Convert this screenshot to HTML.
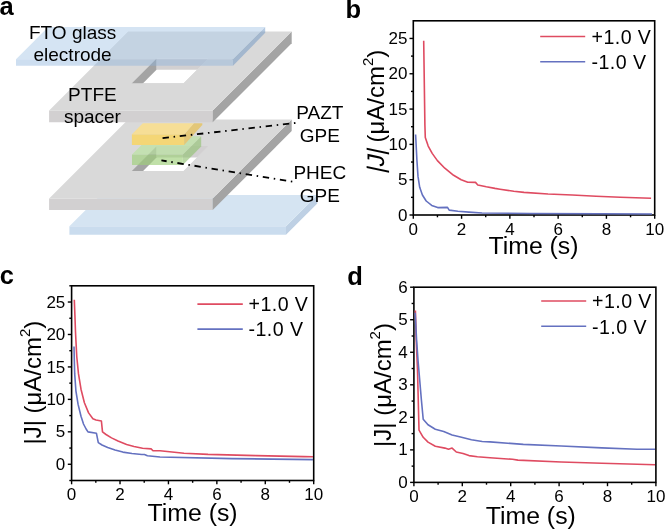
<!DOCTYPE html>
<html><head><meta charset="utf-8"><style>
html,body{margin:0;padding:0;background:#fff;}
svg{display:block;filter:blur(0.3px);}
text{font-family:"Liberation Sans", sans-serif;fill:#000;}
</style></head><body>
<svg width="665" height="530" viewBox="0 0 665 530">
<polygon points="69.40,226.20 286.00,226.20 286.00,234.70 69.40,234.70" fill="#cadcee"/><polygon points="286.00,226.20 317.30,194.90 317.30,203.40 286.00,234.70" fill="#bed0e4"/><polygon points="69.40,226.20 286.00,226.20 317.30,194.90 100.70,194.90" fill="#d5e4f2"/>
<polygon points="49.10,198.40 212.70,198.40 212.70,210.00 49.10,210.00" fill="#d2d0d1"/><polygon points="212.70,198.40 291.70,119.40 291.70,131.00 212.70,210.00" fill="#a4a4a4"/><polygon points="49.10,198.40 212.70,198.40 291.70,119.40 128.10,119.40" fill="#d9d9d9"/><clipPath id="hole1"><polygon points="131.50,171.00 183.60,171.00 208.60,146.00 156.50,146.00" fill="#fff"/></clipPath><g clip-path="url(#hole1)"><polygon points="131.50,171.00 183.60,171.00 208.60,146.00 156.50,146.00" fill="#ffffff"/><polygon points="156.50,146.00 208.60,146.00 208.60,157.60 156.50,157.60" fill="#d2d0d1"/><polygon points="131.50,171.00 156.50,146.00 156.50,157.60 131.50,182.60" fill="#a4a4a4"/></g>
<polygon points="132.00,154.60 182.80,154.60 182.80,165.00 132.00,165.00" fill="#9ecf79" fill-opacity="0.65"/><polygon points="182.80,154.60 201.20,136.20 201.20,146.60 182.80,165.00" fill="#93c174" fill-opacity="0.65"/><polygon points="132.00,154.60 182.80,154.60 201.20,136.20 150.40,136.20" fill="#b9e39c" fill-opacity="0.65"/>
<polygon points="131.90,145.00 184.20,145.00 184.20,134.20 131.90,134.20" fill="#f4d676"/>
<polygon points="184.20,134.20 193.90,123.30 202.30,123.30 202.30,125.00 184.20,145.00" fill="#e3c778"/>
<polygon points="131.90,134.20 184.20,134.20 193.90,123.30 142.80,123.30" fill="#f6de96"/>
<polygon points="49.10,110.60 212.70,110.60 212.70,122.20 49.10,122.20" fill="#d2d0d1"/><polygon points="212.70,110.60 291.70,31.60 291.70,43.20 212.70,122.20" fill="#a4a4a4"/><polygon points="49.10,110.60 212.70,110.60 291.70,31.60 128.10,31.60" fill="#d9d9d9"/><clipPath id="hole2"><polygon points="131.50,83.20 183.60,83.20 208.60,58.20 156.50,58.20" fill="#fff"/></clipPath><g clip-path="url(#hole2)"><polygon points="131.50,83.20 183.60,83.20 208.60,58.20 156.50,58.20" fill="#ffffff"/><polygon points="156.50,58.20 208.60,58.20 208.60,69.80 156.50,69.80" fill="#d2d0d1"/><polygon points="131.50,83.20 156.50,58.20 156.50,69.80 131.50,94.80" fill="#a4a4a4"/></g>
<polygon points="16.00,59.20 233.00,59.20 233.00,65.80 16.00,65.80" fill="#8bb2dc" fill-opacity="0.43"/><polygon points="233.00,59.20 265.20,27.00 265.20,32.80 233.00,65.80" fill="#6e96c3" fill-opacity="0.5"/><polygon points="16.00,59.20 233.00,59.20 265.20,27.00 48.20,27.00" fill="#b4cfea" fill-opacity="0.56"/>
<line x1="295.4" y1="123.0" x2="162.0" y2="138.2" stroke="#000" stroke-width="1.8" stroke-dasharray="1.5,4.7,6.4,4.7"/>
<line x1="292.3" y1="181.6" x2="161.4" y2="160.4" stroke="#000" stroke-width="1.8" stroke-dasharray="1.5,4.7,6.4,4.7"/>
<text x="72.60" y="38.60" font-size="19.00" text-anchor="middle" font-weight="normal">FTO glass</text>
<text x="72.60" y="61.20" font-size="19.00" text-anchor="middle" font-weight="normal">electrode</text>
<text x="92.40" y="101.00" font-size="19.00" text-anchor="middle" font-weight="normal">PTFE</text>
<text x="92.40" y="123.00" font-size="19.00" text-anchor="middle" font-weight="normal">spacer</text>
<text x="319.80" y="119.10" font-size="19.00" text-anchor="middle" font-weight="normal">PAZT</text>
<text x="319.80" y="141.50" font-size="19.00" text-anchor="middle" font-weight="normal">GPE</text>
<text x="319.80" y="179.30" font-size="19.00" text-anchor="middle" font-weight="normal">PHEC</text>
<text x="319.80" y="201.70" font-size="19.00" text-anchor="middle" font-weight="normal">GPE</text>
<text x="-0.60" y="15.10" font-size="25.50" text-anchor="start" font-weight="bold">a</text>
<text x="345.40" y="17.90" font-size="25.50" text-anchor="start" font-weight="bold">b</text>
<text x="-0.30" y="284.40" font-size="25.50" text-anchor="start" font-weight="bold">c</text>
<text x="347.20" y="285.00" font-size="25.50" text-anchor="start" font-weight="bold">d</text>
<rect x="413.30" y="20.80" width="241.40" height="194.20" fill="none" stroke="#000" stroke-width="1.60"/><polyline points="415.60,134.50 416.90,160.00 418.00,176.40 419.70,187.30 422.40,195.00 426.20,201.00 431.70,205.40 437.70,207.60 447.50,207.40 449.20,210.10 457.90,211.20 468.90,212.10 482.00,213.00 530.00,213.50 600.00,213.80 652.00,214.00" fill="none" stroke="#6471c0" stroke-width="1.6" stroke-linejoin="round"/><polyline points="423.70,40.80 424.90,125.00 425.30,137.50 428.20,146.10 432.20,153.40 437.40,160.60 444.80,168.20 453.60,175.30 461.20,179.70 467.80,182.20 475.50,182.40 477.80,185.00 486.30,186.80 495.00,188.40 500.00,189.20 513.80,191.30 524.00,192.40 548.00,194.00 572.20,195.00 596.20,196.20 620.30,197.20 651.10,198.20" fill="none" stroke="#df4b61" stroke-width="1.6" stroke-linejoin="round"/><line x1="413.30" y1="215.00" x2="413.30" y2="218.80" stroke="#000" stroke-width="1.4"/><text x="413.30" y="234.50" font-size="17.00" text-anchor="middle" font-weight="normal">0</text><line x1="437.44" y1="215.00" x2="437.44" y2="217.30" stroke="#000" stroke-width="1.4"/><line x1="461.58" y1="215.00" x2="461.58" y2="218.80" stroke="#000" stroke-width="1.4"/><text x="461.58" y="234.50" font-size="17.00" text-anchor="middle" font-weight="normal">2</text><line x1="485.72" y1="215.00" x2="485.72" y2="217.30" stroke="#000" stroke-width="1.4"/><line x1="509.86" y1="215.00" x2="509.86" y2="218.80" stroke="#000" stroke-width="1.4"/><text x="509.86" y="234.50" font-size="17.00" text-anchor="middle" font-weight="normal">4</text><line x1="534.00" y1="215.00" x2="534.00" y2="217.30" stroke="#000" stroke-width="1.4"/><line x1="558.14" y1="215.00" x2="558.14" y2="218.80" stroke="#000" stroke-width="1.4"/><text x="558.14" y="234.50" font-size="17.00" text-anchor="middle" font-weight="normal">6</text><line x1="582.28" y1="215.00" x2="582.28" y2="217.30" stroke="#000" stroke-width="1.4"/><line x1="606.42" y1="215.00" x2="606.42" y2="218.80" stroke="#000" stroke-width="1.4"/><text x="606.42" y="234.50" font-size="17.00" text-anchor="middle" font-weight="normal">8</text><line x1="630.56" y1="215.00" x2="630.56" y2="217.30" stroke="#000" stroke-width="1.4"/><line x1="654.70" y1="215.00" x2="654.70" y2="218.80" stroke="#000" stroke-width="1.4"/><text x="654.70" y="234.50" font-size="17.00" text-anchor="middle" font-weight="normal">10</text><line x1="409.50" y1="215.00" x2="413.30" y2="215.00" stroke="#000" stroke-width="1.4"/><text x="407.50" y="220.61" font-size="17.00" text-anchor="end" font-weight="normal">0</text><line x1="409.50" y1="179.69" x2="413.30" y2="179.69" stroke="#000" stroke-width="1.4"/><text x="407.50" y="185.30" font-size="17.00" text-anchor="end" font-weight="normal">5</text><line x1="409.50" y1="144.38" x2="413.30" y2="144.38" stroke="#000" stroke-width="1.4"/><text x="407.50" y="149.99" font-size="17.00" text-anchor="end" font-weight="normal">10</text><line x1="409.50" y1="109.07" x2="413.30" y2="109.07" stroke="#000" stroke-width="1.4"/><text x="407.50" y="114.68" font-size="17.00" text-anchor="end" font-weight="normal">15</text><line x1="409.50" y1="73.76" x2="413.30" y2="73.76" stroke="#000" stroke-width="1.4"/><text x="407.50" y="79.37" font-size="17.00" text-anchor="end" font-weight="normal">20</text><line x1="409.50" y1="38.45" x2="413.30" y2="38.45" stroke="#000" stroke-width="1.4"/><text x="407.50" y="44.06" font-size="17.00" text-anchor="end" font-weight="normal">25</text><line x1="411.00" y1="197.35" x2="413.30" y2="197.35" stroke="#000" stroke-width="1.4"/><line x1="411.00" y1="162.04" x2="413.30" y2="162.04" stroke="#000" stroke-width="1.4"/><line x1="411.00" y1="126.73" x2="413.30" y2="126.73" stroke="#000" stroke-width="1.4"/><line x1="411.00" y1="91.42" x2="413.30" y2="91.42" stroke="#000" stroke-width="1.4"/><line x1="411.00" y1="56.11" x2="413.30" y2="56.11" stroke="#000" stroke-width="1.4"/><line x1="540.20" y1="36.40" x2="585.20" y2="36.40" stroke="#df4b61" stroke-width="1.55"/><line x1="540.20" y1="61.80" x2="585.20" y2="61.80" stroke="#6471c0" stroke-width="1.55"/><text x="591.50" y="43.70" font-size="19.60" text-anchor="start" font-weight="normal" letter-spacing="0.45">+1.0 V</text><text x="591.50" y="69.10" font-size="19.60" text-anchor="start" font-weight="normal" letter-spacing="0.45">-1.0 V</text><text x="533.50" y="254.00" font-size="24.80" text-anchor="middle" font-weight="normal">Time (s)</text><text transform="translate(384.00,173.80) rotate(-90) skewX(-12)" x="0" y="0" font-size="24.00" text-anchor="start">|J|</text><text transform="translate(384.00,142.50) rotate(-90)" x="0" y="0" font-size="24.00" text-anchor="start">(μA/cm<tspan font-size="15" dy="-11">2</tspan><tspan dy="11">)</tspan></text>
<rect x="71.60" y="285.80" width="242.10" height="194.70" fill="none" stroke="#000" stroke-width="1.60"/><polyline points="74.00,346.50 74.30,360.00 74.70,373.90 75.90,390.80 78.10,404.40 81.00,416.30 83.50,424.00 86.10,429.00 88.00,431.90 96.40,433.20 98.30,442.60 102.00,445.00 107.70,447.40 115.00,450.00 122.80,452.10 132.00,453.50 141.70,454.50 144.50,454.50 147.40,455.80 160.00,457.00 232.00,458.60 313.00,459.60" fill="none" stroke="#6471c0" stroke-width="1.6" stroke-linejoin="round"/><polyline points="74.30,299.80 74.90,315.00 75.50,332.00 75.90,340.00 76.80,357.00 78.50,373.90 81.00,389.20 84.40,402.70 88.60,412.90 92.90,418.80 96.00,420.00 101.40,421.00 102.50,431.90 106.00,434.50 111.50,437.90 118.00,441.00 126.60,444.50 134.00,446.50 142.60,448.30 151.10,448.90 153.00,450.80 160.00,450.80 184.00,453.20 208.00,454.40 256.00,455.60 304.00,456.60 313.00,456.80" fill="none" stroke="#df4b61" stroke-width="1.6" stroke-linejoin="round"/><line x1="71.60" y1="480.50" x2="71.60" y2="484.30" stroke="#000" stroke-width="1.4"/><text x="71.60" y="500.40" font-size="17.00" text-anchor="middle" font-weight="normal">0</text><line x1="95.81" y1="480.50" x2="95.81" y2="482.80" stroke="#000" stroke-width="1.4"/><line x1="120.02" y1="480.50" x2="120.02" y2="484.30" stroke="#000" stroke-width="1.4"/><text x="120.02" y="500.40" font-size="17.00" text-anchor="middle" font-weight="normal">2</text><line x1="144.23" y1="480.50" x2="144.23" y2="482.80" stroke="#000" stroke-width="1.4"/><line x1="168.44" y1="480.50" x2="168.44" y2="484.30" stroke="#000" stroke-width="1.4"/><text x="168.44" y="500.40" font-size="17.00" text-anchor="middle" font-weight="normal">4</text><line x1="192.65" y1="480.50" x2="192.65" y2="482.80" stroke="#000" stroke-width="1.4"/><line x1="216.86" y1="480.50" x2="216.86" y2="484.30" stroke="#000" stroke-width="1.4"/><text x="216.86" y="500.40" font-size="17.00" text-anchor="middle" font-weight="normal">6</text><line x1="241.07" y1="480.50" x2="241.07" y2="482.80" stroke="#000" stroke-width="1.4"/><line x1="265.28" y1="480.50" x2="265.28" y2="484.30" stroke="#000" stroke-width="1.4"/><text x="265.28" y="500.40" font-size="17.00" text-anchor="middle" font-weight="normal">8</text><line x1="289.49" y1="480.50" x2="289.49" y2="482.80" stroke="#000" stroke-width="1.4"/><line x1="313.70" y1="480.50" x2="313.70" y2="484.30" stroke="#000" stroke-width="1.4"/><text x="313.70" y="500.40" font-size="17.00" text-anchor="middle" font-weight="normal">10</text><line x1="67.80" y1="464.27" x2="71.60" y2="464.27" stroke="#000" stroke-width="1.4"/><text x="65.30" y="469.88" font-size="17.00" text-anchor="end" font-weight="normal">0</text><line x1="67.80" y1="431.82" x2="71.60" y2="431.82" stroke="#000" stroke-width="1.4"/><text x="65.30" y="437.44" font-size="17.00" text-anchor="end" font-weight="normal">5</text><line x1="67.80" y1="399.38" x2="71.60" y2="399.38" stroke="#000" stroke-width="1.4"/><text x="65.30" y="404.99" font-size="17.00" text-anchor="end" font-weight="normal">10</text><line x1="67.80" y1="366.93" x2="71.60" y2="366.93" stroke="#000" stroke-width="1.4"/><text x="65.30" y="372.54" font-size="17.00" text-anchor="end" font-weight="normal">15</text><line x1="67.80" y1="334.48" x2="71.60" y2="334.48" stroke="#000" stroke-width="1.4"/><text x="65.30" y="340.09" font-size="17.00" text-anchor="end" font-weight="normal">20</text><line x1="67.80" y1="302.02" x2="71.60" y2="302.02" stroke="#000" stroke-width="1.4"/><text x="65.30" y="307.63" font-size="17.00" text-anchor="end" font-weight="normal">25</text><line x1="69.30" y1="480.50" x2="71.60" y2="480.50" stroke="#000" stroke-width="1.4"/><line x1="69.30" y1="448.05" x2="71.60" y2="448.05" stroke="#000" stroke-width="1.4"/><line x1="69.30" y1="415.60" x2="71.60" y2="415.60" stroke="#000" stroke-width="1.4"/><line x1="69.30" y1="383.15" x2="71.60" y2="383.15" stroke="#000" stroke-width="1.4"/><line x1="69.30" y1="350.70" x2="71.60" y2="350.70" stroke="#000" stroke-width="1.4"/><line x1="69.30" y1="318.25" x2="71.60" y2="318.25" stroke="#000" stroke-width="1.4"/><line x1="69.30" y1="285.80" x2="71.60" y2="285.80" stroke="#000" stroke-width="1.4"/><line x1="197.40" y1="304.10" x2="242.80" y2="304.10" stroke="#df4b61" stroke-width="1.55"/><line x1="197.40" y1="329.10" x2="242.80" y2="329.10" stroke="#6471c0" stroke-width="1.55"/><text x="248.50" y="311.40" font-size="19.60" text-anchor="start" font-weight="normal" letter-spacing="0.45">+1.0 V</text><text x="248.50" y="336.40" font-size="19.60" text-anchor="start" font-weight="normal" letter-spacing="0.45">-1.0 V</text><text x="192.60" y="521.00" font-size="24.80" text-anchor="middle" font-weight="normal">Time (s)</text><text transform="translate(41.00,444.60) rotate(-90)" x="0" y="0" font-size="24.00" text-anchor="start">|J| (μA/cm<tspan font-size="15" dy="-11">2</tspan><tspan dy="11">)</tspan></text>
<rect x="413.90" y="287.20" width="242.00" height="195.20" fill="none" stroke="#000" stroke-width="1.60"/><polyline points="415.40,310.60 416.20,340.00 417.50,370.00 419.00,430.10 423.20,437.30 428.00,442.10 435.30,446.30 444.90,448.10 448.50,449.30 452.10,448.10 456.30,452.00 463.00,453.50 469.00,455.60 477.40,456.80 490.00,457.70 512.50,459.30 517.90,460.10 561.20,462.00 601.80,463.30 655.00,464.70" fill="none" stroke="#df4b61" stroke-width="1.6" stroke-linejoin="round"/><polyline points="415.20,312.80 416.60,340.00 418.00,360.00 421.40,400.00 423.20,419.20 428.00,424.70 435.30,429.20 443.70,431.50 452.10,434.90 460.50,437.10 471.40,439.70 482.20,441.50 490.00,441.90 523.30,444.40 561.20,446.00 601.80,447.90 637.00,449.30 655.00,449.30" fill="none" stroke="#6471c0" stroke-width="1.6" stroke-linejoin="round"/><line x1="413.90" y1="482.40" x2="413.90" y2="486.20" stroke="#000" stroke-width="1.4"/><text x="413.90" y="501.80" font-size="17.00" text-anchor="middle" font-weight="normal">0</text><line x1="438.10" y1="482.40" x2="438.10" y2="484.70" stroke="#000" stroke-width="1.4"/><line x1="462.30" y1="482.40" x2="462.30" y2="486.20" stroke="#000" stroke-width="1.4"/><text x="462.30" y="501.80" font-size="17.00" text-anchor="middle" font-weight="normal">2</text><line x1="486.50" y1="482.40" x2="486.50" y2="484.70" stroke="#000" stroke-width="1.4"/><line x1="510.70" y1="482.40" x2="510.70" y2="486.20" stroke="#000" stroke-width="1.4"/><text x="510.70" y="501.80" font-size="17.00" text-anchor="middle" font-weight="normal">4</text><line x1="534.90" y1="482.40" x2="534.90" y2="484.70" stroke="#000" stroke-width="1.4"/><line x1="559.10" y1="482.40" x2="559.10" y2="486.20" stroke="#000" stroke-width="1.4"/><text x="559.10" y="501.80" font-size="17.00" text-anchor="middle" font-weight="normal">6</text><line x1="583.30" y1="482.40" x2="583.30" y2="484.70" stroke="#000" stroke-width="1.4"/><line x1="607.50" y1="482.40" x2="607.50" y2="486.20" stroke="#000" stroke-width="1.4"/><text x="607.50" y="501.80" font-size="17.00" text-anchor="middle" font-weight="normal">8</text><line x1="631.70" y1="482.40" x2="631.70" y2="484.70" stroke="#000" stroke-width="1.4"/><line x1="655.90" y1="482.40" x2="655.90" y2="486.20" stroke="#000" stroke-width="1.4"/><text x="655.90" y="501.80" font-size="17.00" text-anchor="middle" font-weight="normal">10</text><line x1="410.10" y1="482.40" x2="413.90" y2="482.40" stroke="#000" stroke-width="1.4"/><text x="407.80" y="488.01" font-size="17.00" text-anchor="end" font-weight="normal">0</text><line x1="410.10" y1="449.87" x2="413.90" y2="449.87" stroke="#000" stroke-width="1.4"/><text x="407.80" y="455.48" font-size="17.00" text-anchor="end" font-weight="normal">1</text><line x1="410.10" y1="417.33" x2="413.90" y2="417.33" stroke="#000" stroke-width="1.4"/><text x="407.80" y="422.94" font-size="17.00" text-anchor="end" font-weight="normal">2</text><line x1="410.10" y1="384.80" x2="413.90" y2="384.80" stroke="#000" stroke-width="1.4"/><text x="407.80" y="390.41" font-size="17.00" text-anchor="end" font-weight="normal">3</text><line x1="410.10" y1="352.27" x2="413.90" y2="352.27" stroke="#000" stroke-width="1.4"/><text x="407.80" y="357.88" font-size="17.00" text-anchor="end" font-weight="normal">4</text><line x1="410.10" y1="319.73" x2="413.90" y2="319.73" stroke="#000" stroke-width="1.4"/><text x="407.80" y="325.34" font-size="17.00" text-anchor="end" font-weight="normal">5</text><line x1="410.10" y1="287.20" x2="413.90" y2="287.20" stroke="#000" stroke-width="1.4"/><text x="407.80" y="292.81" font-size="17.00" text-anchor="end" font-weight="normal">6</text><line x1="411.60" y1="466.13" x2="413.90" y2="466.13" stroke="#000" stroke-width="1.4"/><line x1="411.60" y1="433.60" x2="413.90" y2="433.60" stroke="#000" stroke-width="1.4"/><line x1="411.60" y1="401.07" x2="413.90" y2="401.07" stroke="#000" stroke-width="1.4"/><line x1="411.60" y1="368.53" x2="413.90" y2="368.53" stroke="#000" stroke-width="1.4"/><line x1="411.60" y1="336.00" x2="413.90" y2="336.00" stroke="#000" stroke-width="1.4"/><line x1="411.60" y1="303.47" x2="413.90" y2="303.47" stroke="#000" stroke-width="1.4"/><line x1="541.20" y1="300.90" x2="586.20" y2="300.90" stroke="#df4b61" stroke-width="1.55"/><line x1="541.20" y1="326.30" x2="586.20" y2="326.30" stroke="#6471c0" stroke-width="1.55"/><text x="592.00" y="308.20" font-size="19.60" text-anchor="start" font-weight="normal" letter-spacing="0.45">+1.0 V</text><text x="592.00" y="333.60" font-size="19.60" text-anchor="start" font-weight="normal" letter-spacing="0.45">-1.0 V</text><text x="530.80" y="524.30" font-size="24.80" text-anchor="middle" font-weight="normal">Time (s)</text><text transform="translate(391.00,447.00) rotate(-90)" x="0" y="0" font-size="24.00" text-anchor="start">|J| (μA/cm<tspan font-size="15" dy="-11">2</tspan><tspan dy="11">)</tspan></text>
</svg>
</body></html>
